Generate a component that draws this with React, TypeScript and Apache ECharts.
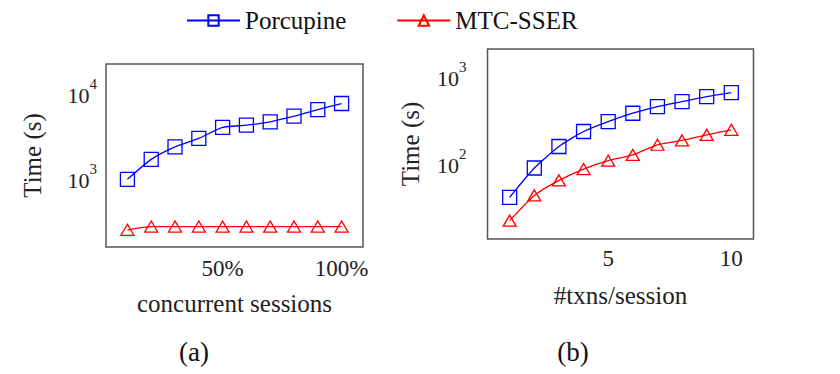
import React, { useEffect, useRef } from "react";
import * as echarts from "echarts";

// (a) concurrent sessions (%)
const leftX = [10, 20, 30, 40, 50, 60, 70, 80, 90, 100];
const leftPorcupine = [931, 1603, 2253, 2831, 3814, 4055, 4434, 5176, 6209, 7311];
const leftMtc = [236, 258, 258, 258, 258, 258, 258, 258, 258, 258];
const leftXTicks = [50, 100];
const leftYTicks = [1000, 10000];

// (b) #txns/session
const rightX = [1, 2, 3, 4, 5, 6, 7, 8, 9, 10];
const rightPorcupine = [38.5, 84, 149, 222, 289, 361, 431, 492, 562, 625];
const rightMtc = [20.7, 40.5, 60.4, 81.7, 102, 119, 156, 175, 203, 232];
const rightXTicks = [5, 10];
const rightYTicks = [100, 1000];

const seriesNames = ["Porcupine", "MTC-SSER"];
const captions = ["(a)", "(b)"];

const FONT = "Liberation Serif";
const TEXT = "#222";
const BLUE = "#0000ff";
const RED = "#ff0000";

export default function App() {
  const ref = useRef<HTMLDivElement>(null);

  useEffect(() => {
    document.body.style.margin = "0";
    if (!ref.current) return;
    const chart = echarts.init(ref.current, undefined, { renderer: "svg" });

    const supFormatter = (v: number) =>
      `{b|10}{s|${Math.round(Math.log10(v))}}`;
    const supRich = {
      b: { fontSize: 22, fontFamily: FONT, color: TEXT, verticalAlign: "bottom", lineHeight: 30 },
      s: { fontSize: 15, fontFamily: FONT, color: TEXT, verticalAlign: "top", lineHeight: 30 },
    };

    const mkSeries = (name: string, xs: number[], ys: number[], idx: number, isBlue: boolean) => ({
      name,
      type: "line",
      xAxisIndex: idx,
      yAxisIndex: idx,
      data: xs.map((x, i) => [x, ys[i]]),
      smooth: 0.2,
      symbol: isBlue ? "rect" : "triangle",
      symbolSize: isBlue ? 14 : [13, 11],
      lineStyle: { color: isBlue ? BLUE : RED, width: 1.3 },
      itemStyle: {
        color: "rgba(255,255,255,0)",
        borderColor: isBlue ? BLUE : RED,
        borderWidth: 1.3,
      },
      emphasis: { disabled: true },
      z: isBlue ? 3 : 2,
    });

    const xAxisBase = {
      type: "value",
      nameLocation: "middle",
      nameGap: 44,
      nameTextStyle: { fontFamily: FONT, fontSize: 25, color: TEXT },
      axisLine: { show: false },
      axisTick: { show: false },
      splitLine: { show: false },
    };
    const yAxisBase = {
      type: "log",
      logBase: 10,
      name: "Time (s)",
      nameLocation: "middle",
      nameRotate: 90,
      nameTextStyle: { fontFamily: FONT, fontSize: 25, color: TEXT },
      axisLine: { show: false },
      axisTick: { show: false },
      splitLine: { show: false },
      minorTick: { show: false },
    };

    chart.setOption({
      animation: false,
      backgroundColor: "#ffffff",
      legend: {
        data: seriesNames,
        left: 181,
        top: 3,
        padding: 5,
        itemWidth: 53,
        itemHeight: 13,
        itemGap: 50,
        textStyle: { fontFamily: FONT, fontSize: 25, color: "#111" },
      },
      grid: [
        { left: 106, top: 64, width: 257, height: 183, show: true, borderColor: "#555", borderWidth: 1.5, backgroundColor: "transparent" },
        { left: 487.5, top: 49, width: 266, height: 190, show: true, borderColor: "#555", borderWidth: 1.5, backgroundColor: "transparent" },
      ],
      xAxis: [
        {
          ...xAxisBase,
          gridIndex: 0,
          min: 1,
          max: 109,
          name: "concurrent sessions",
          axisLabel: {
            customValues: leftXTicks,
            formatter: (v: number) => `${v}%`,
            fontFamily: FONT,
            fontSize: 23,
            color: TEXT,
            margin: 10,
          },
        },
        {
          ...xAxisBase,
          gridIndex: 1,
          min: 0.1,
          max: 10.9,
          name: "#txns/session",
          axisLabel: {
            customValues: rightXTicks,
            formatter: (v: number) => `${v}`,
            fontFamily: FONT,
            fontSize: 23,
            color: TEXT,
            margin: 8,
          },
        },
      ],
      yAxis: [
        {
          ...yAxisBase,
          gridIndex: 0,
          min: 148,
          max: 21400,
          nameGap: 61,
          axisLabel: {
            customValues: leftYTicks,
            formatter: supFormatter,
            rich: supRich,
            margin: 9,
          },
        },
        {
          ...yAxisBase,
          gridIndex: 1,
          min: 12.7,
          max: 1995,
          nameGap: 65,
          axisLabel: {
            customValues: rightYTicks,
            formatter: supFormatter,
            rich: supRich,
            margin: 21,
          },
        },
      ],
      series: [
        mkSeries(seriesNames[0], leftX, leftPorcupine, 0, true),
        mkSeries(seriesNames[1], leftX, leftMtc, 0, false),
        mkSeries(seriesNames[0], rightX, rightPorcupine, 1, true),
        mkSeries(seriesNames[1], rightX, rightMtc, 1, false),
      ],
      graphic: [
        { type: "text", x: 194, y: 352, style: { text: captions[0], fontFamily: FONT, fontSize: 27, fill: "#111", align: "center", verticalAlign: "middle" } },
        { type: "text", x: 573, y: 352, style: { text: captions[1], fontFamily: FONT, fontSize: 27, fill: "#111", align: "center", verticalAlign: "middle" } },
      ],
    });

    return () => chart.dispose();
  }, []);

  return (
    <div
      ref={ref}
      style={{ position: "fixed", left: 0, top: 0, width: 840, height: 374 }}
    />
  );
}
